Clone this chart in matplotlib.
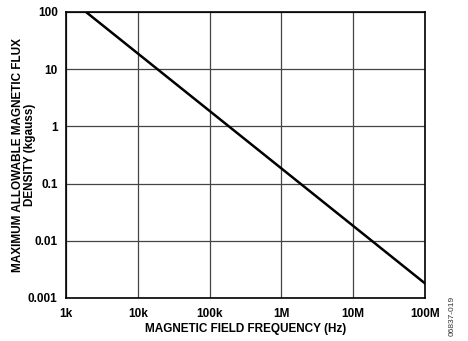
import matplotlib
matplotlib.use("Agg")
import matplotlib.pyplot as plt

plt.rcParams["font.family"] = ["Liberation Sans", "DejaVu Sans"]

# line end points
freq_hz = [1.9e3, 1e8]
max_flux_kgauss = [100, 0.0018]

x_ticks = [1e3, 1e4, 1e5, 1e6, 1e7, 1e8]
x_labels = ["1k", "10k", "100k", "1M", "10M", "100M"]
y_ticks = [0.001, 0.01, 0.1, 1, 10, 100]
y_labels = ["0.001", "0.01", "0.1", "1", "10", "100"]

fig = plt.figure(figsize=(4.68, 3.41), dpi=100)
ax = fig.add_axes([66 / 468, 43 / 341, 359 / 468, 286 / 341])

ax.plot(freq_hz, max_flux_kgauss, color="black", lw=1.8)

ax.set_xscale("log")
ax.set_yscale("log")
ax.set_xlim(1e3, 1e8)
ax.set_ylim(0.001, 100)
ax.set_xticks(x_ticks)
ax.set_xticklabels(x_labels)
ax.set_yticks(y_ticks)
ax.set_yticklabels(y_labels)
ax.minorticks_off()
ax.tick_params(axis="x", length=0, pad=7, labelsize=8.5)
ax.tick_params(axis="y", length=0, pad=6, labelsize=8.5)
for lab in ax.get_xticklabels() + ax.get_yticklabels():
    lab.set_fontweight("bold")

ax.grid(True, color="#444444", lw=0.9)
for s in ax.spines.values():
    s.set_linewidth(1.2)
    s.set_color("black")

ax.set_xlabel("MAGNETIC FIELD FREQUENCY (Hz)", fontsize=8.5,
              fontweight="bold")
ax.xaxis.set_label_coords(0.5, -25 / 286)
ax.set_ylabel("MAXIMUM ALLOWABLE MAGNETIC FLUX\nDENSITY (kgauss)",
              fontsize=8.5, fontweight="bold", linespacing=1.0)
ax.yaxis.set_label_coords(-30 / 359, 0.5)

fig.text(452 / 468, 5 / 341, "06837-019", rotation=90, fontsize=6,
         ha="center", va="bottom", color="#333333")

fig.savefig("out.png", dpi=100)
